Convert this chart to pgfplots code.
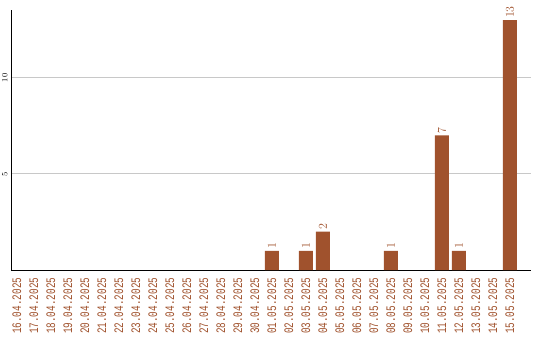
\documentclass[border=0pt]{standalone}
\usepackage{pgfplots}
\pgfplotsset{compat=1.18}
\usepackage{fontspec}
\setmainfont{Liberation Mono}
\newfontfamily\labelfont[FakeStretch=0.72]{Liberation Mono}
\definecolor{barbrown}{RGB}{160,82,45}
\definecolor{gridgray}{RGB}{200,200,200}
\begin{document}
\begin{tikzpicture}
\path[use as bounding box] (0,0) rectangle (540pt,340pt);
\begin{axis}[
  at={(11pt,70pt)}, anchor=south west,
  scale only axis,
  width=520pt, height=259.5pt,
  xmin=-0.35, xmax=30.24,
  ymin=0, ymax=13.5,
  axis x line*=bottom, axis y line*=left,
  axis line style={black, line width=0.9pt},
  xtick={0,...,29},
  xticklabels={16.04.2025,17.04.2025,18.04.2025,19.04.2025,20.04.2025,21.04.2025,22.04.2025,23.04.2025,24.04.2025,25.04.2025,26.04.2025,27.04.2025,28.04.2025,29.04.2025,30.04.2025,01.05.2025,02.05.2025,03.05.2025,04.05.2025,05.05.2025,06.05.2025,07.05.2025,08.05.2025,09.05.2025,10.05.2025,11.05.2025,12.05.2025,13.05.2025,14.05.2025,15.05.2025},
  xticklabel style={rotate=90, anchor=east, font=\labelfont\fontsize{13}{14}\selectfont, text=barbrown, inner sep=0pt, xshift=-7.5pt},
  ytick={5,10},
  yticklabel style={rotate=90, anchor=south, font=\fontsize{8.5}{9}\selectfont, inner sep=0pt, yshift=3.5pt},
  major tick length=0pt,
  ymajorgrids, grid style={gridgray, line width=0.8pt},
  ybar, bar width=14pt,
  nodes near coords,
  every node near coord/.append style={rotate=90, anchor=west, font=\labelfont\fontsize{13}{14}\selectfont, text=barbrown, inner sep=0pt, xshift=2pt},
]
\addplot[fill=barbrown, draw=none, bar shift=0pt] coordinates {
  (15,1) (17,1) (18,2) (22,1) (25,7) (26,1) (29,13)
};
\end{axis}
\end{tikzpicture}
\end{document}
